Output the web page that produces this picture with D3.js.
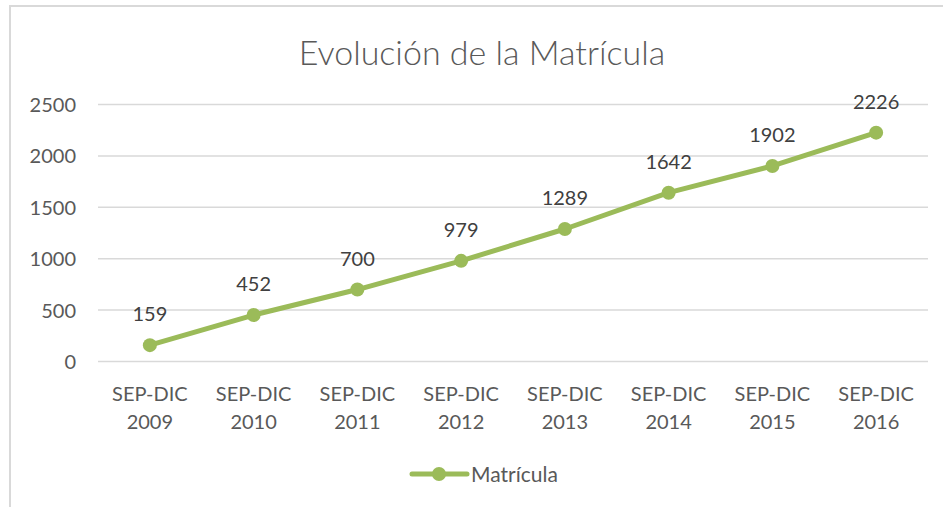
<!DOCTYPE html>
<html>
<head>
<meta charset="utf-8">
<script src="https://cdn.jsdelivr.net/npm/d3@7"></script>
<style>
  body { margin: 0; background: #fff; }
  svg { display: block; font-family: Lato, "Open Sans", sans-serif; }
</style>
</head>
<body>
<svg id="chart" width="943" height="507"></svg>
<script>
// Data
const categories = ["SEP-DIC 2009", "SEP-DIC 2010", "SEP-DIC 2011", "SEP-DIC 2012",
                    "SEP-DIC 2013", "SEP-DIC 2014", "SEP-DIC 2015", "SEP-DIC 2016"];
const matricula = [159, 452, 700, 979, 1289, 1642, 1902, 2226];
const yTicks = [0, 500, 1000, 1500, 2000, 2500];
const seriesName = "Matrícula";
const title = "Evolución de la Matrícula";

const svg = d3.select("#chart");
const green = "#9bbb59";
const textColor = "#595959";

// chart frame (only top and left edges visible)
svg.append("line").attr("x1", 9).attr("x2", 943).attr("y1", 6).attr("y2", 6)
    .attr("stroke", "#d9d9d9").attr("stroke-width", 2);
svg.append("line").attr("x1", 10).attr("x2", 10).attr("y1", 5).attr("y2", 507)
    .attr("stroke", "#d9d9d9").attr("stroke-width", 2);

// Title
svg.append("text")
    .attr("x", 482).attr("y", 65)
    .attr("text-anchor", "middle")
    .attr("font-size", "34px")
    .attr("font-weight", 300)
    .attr("fill", textColor)
    .text(title);

const x = d3.scaleBand().domain(categories).range([98, 928]);
const y = d3.scaleLinear().domain([0, 2500]).range([361.5, 104.5]);

// gridlines
svg.append("g").selectAll("line")
    .data(yTicks)
    .enter().append("line")
    .attr("x1", 98).attr("x2", 928)
    .attr("y1", d => y(d)).attr("y2", d => y(d))
    .attr("stroke", "#d9d9d9").attr("stroke-width", 1.5);

// y axis labels
const yAxis = d3.axisLeft(y).tickValues(yTicks).tickSize(0).tickPadding(0)
    .tickFormat(d3.format("d"));
svg.append("g")
    .attr("transform", "translate(76,0)")
    .call(yAxis)
    .call(g => g.select(".domain").remove())
    .call(g => g.selectAll("text")
        .attr("font-size", "20px")
        .attr("font-family", "Lato, 'Open Sans', sans-serif")
        .attr("fill", textColor)
        .attr("dy", "0.35em"));

// x axis labels, two lines each
const xLabels = svg.append("g").selectAll("text")
    .data(categories)
    .enter().append("text")
    .attr("x", d => x(d) + x.bandwidth() / 2)
    .attr("text-anchor", "middle")
    .attr("font-size", "20px")
    .attr("fill", textColor);
xLabels.append("tspan")
    .attr("x", d => x(d) + x.bandwidth() / 2)
    .attr("y", 401)
    .text(d => d.split(" ")[0]);
xLabels.append("tspan")
    .attr("x", d => x(d) + x.bandwidth() / 2)
    .attr("y", 429)
    .text(d => d.split(" ")[1]);

const points = categories.map((c, i) => ({ cat: c, value: matricula[i] }));
const cx = d => x(d.cat) + x.bandwidth() / 2;

const lineGen = d3.line()
    .x(cx)
    .y(d => y(d.value));

svg.append("path")
    .datum(points)
    .attr("fill", "none")
    .attr("stroke", green)
    .attr("stroke-width", 5)
    .attr("stroke-linejoin", "round")
    .attr("d", lineGen);

svg.selectAll(".pt")
    .data(points)
    .enter().append("circle")
    .attr("class", "pt")
    .attr("cx", cx)
    .attr("cy", d => y(d.value))
    .attr("r", 7)
    .attr("fill", green);

// data labels
svg.selectAll(".lbl")
    .data(points)
    .enter().append("text")
    .attr("class", "lbl")
    .attr("x", cx)
    .attr("y", d => y(d.value) - 24)
    .attr("text-anchor", "middle")
    .attr("font-size", "20px")
    .attr("fill", "#404040")
    .text(d => d.value);

// legend
const legend = svg.append("g");
legend.append("line")
    .attr("x1", 412).attr("x2", 467).attr("y1", 474).attr("y2", 474)
    .attr("stroke", green).attr("stroke-width", 5).attr("stroke-linecap", "round");
legend.append("circle")
    .attr("cx", 439).attr("cy", 474).attr("r", 7).attr("fill", green);
legend.append("text")
    .attr("x", 471).attr("y", 482)
    .attr("font-size", "21px")
    .attr("fill", textColor)
    .text(seriesName);
</script>
</body>
</html>
